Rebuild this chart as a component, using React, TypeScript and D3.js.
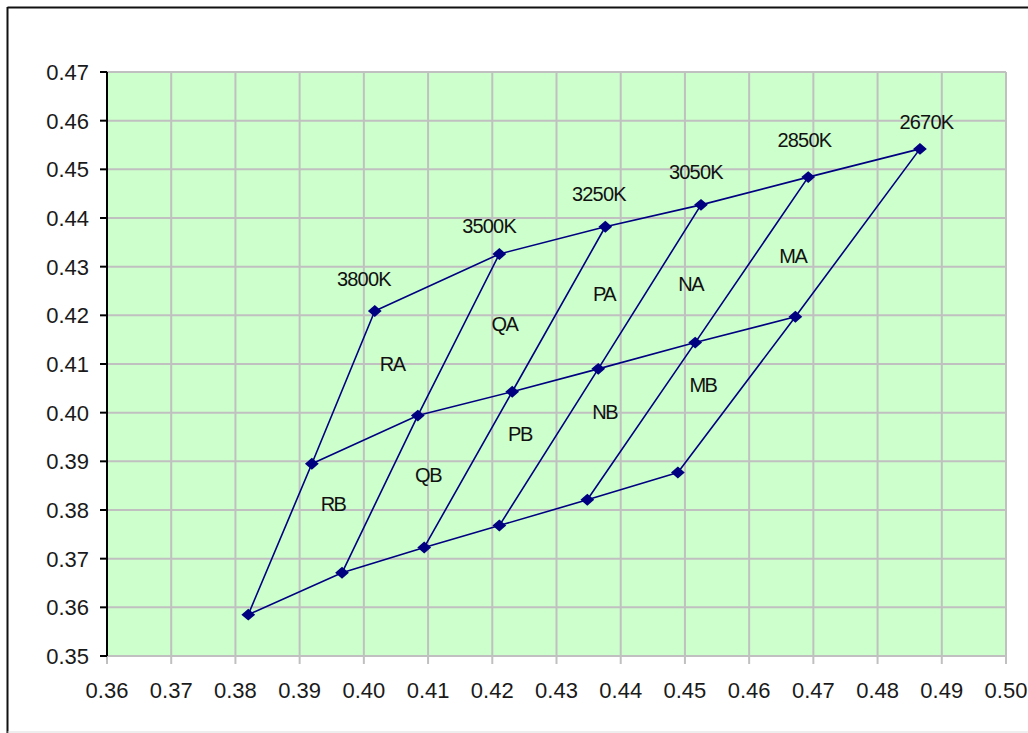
import * as d3 from "d3";
import React, { useRef, useEffect } from "react";

// chromaticity points (x, y)
const topRow: [number, number][] = [
  [0.4017, 0.4209],
  [0.4211, 0.4326],
  [0.4376, 0.4382],
  [0.4525, 0.4427],
  [0.4692, 0.4484],
  [0.4866, 0.4542],
];
const midRow: [number, number][] = [
  [0.3919, 0.3895],
  [0.4084, 0.3994],
  [0.4231, 0.4043],
  [0.4365, 0.409],
  [0.4516, 0.4144],
  [0.4672, 0.4197],
];
const bottomRow: [number, number][] = [
  [0.382, 0.3585],
  [0.3966, 0.3671],
  [0.4094, 0.3723],
  [0.4211, 0.3768],
  [0.4348, 0.3821],
  [0.4489, 0.3877],
];

const tempLabels = ["3800K", "3500K", "3250K", "3050K", "2850K", "2670K"];
const tempLabelPos: [number, number][] = [
  [0.4, 0.4275],
  [0.4195, 0.4385],
  [0.4366, 0.445],
  [0.4517, 0.4495],
  [0.4686, 0.456],
  [0.4876, 0.4597],
];

const regionLabels = ["RA", "QA", "PA", "NA", "MA", "RB", "QB", "PB", "NB", "MB"];
const regionLabelPos: [number, number][] = [
  [0.4044, 0.41],
  [0.4219, 0.4182],
  [0.4374, 0.4245],
  [0.4509, 0.4264],
  [0.4668, 0.4323],
  [0.3952, 0.3813],
  [0.41, 0.3873],
  [0.4243, 0.3957],
  [0.4375, 0.4002],
  [0.4528, 0.4058],
];

const xTicks = d3.range(0.36, 0.5001, 0.01);
const yTicks = d3.range(0.35, 0.4701, 0.01);

const margin = { top: 72, right: 22, bottom: 77, left: 107 };
const W = 1028;
const H = 733;

function drawChart(ref: any) {
  const svg = d3.select(ref.current);
  svg.selectAll("*").remove();
  const width = W - margin.left - margin.right;
  const height = H - margin.top - margin.bottom;

  // outer frame
  svg.append("line").attr("x1", 7.5).attr("x2", W).attr("y1", 7.5).attr("y2", 7.5)
    .attr("stroke", "#111").attr("stroke-width", 2);
  svg.append("line").attr("x1", 7.5).attr("x2", 7.5).attr("y1", 7).attr("y2", 733)
    .attr("stroke", "#111").attr("stroke-width", 2);
  svg.append("line").attr("x1", 7.5).attr("x2", W).attr("y1", 732).attr("y2", 732)
    .attr("stroke", "#ddd").attr("stroke-width", 1);

  const g = svg.append("g")
    .attr("transform", "translate(" + margin.left + "," + margin.top + ")");

  const x = d3.scaleLinear().domain([0.36, 0.5]).range([0, width]);
  const y = d3.scaleLinear().domain([0.35, 0.47]).range([height, 0]);

  g.append("rect").attr("width", width).attr("height", height).attr("fill", "#ccffcc");

  // grid
  g.selectAll(".vgrid").data(xTicks).enter().append("line")
    .attr("x1", (d: number) => x(d)).attr("x2", (d: number) => x(d))
    .attr("y1", 0).attr("y2", height + 8)
    .attr("stroke", "#c0c0c0").attr("stroke-width", 2);
  g.selectAll(".hgrid").data(yTicks).enter().append("line")
    .attr("x1", 0).attr("x2", width)
    .attr("y1", (d: number) => y(d)).attr("y2", (d: number) => y(d))
    .attr("stroke", "#c0c0c0").attr("stroke-width", 2);

  // left axis
  g.append("line").attr("x1", 0).attr("x2", 0).attr("y1", 0).attr("y2", height)
    .attr("stroke", "#000").attr("stroke-width", 2);
  g.selectAll(".ytick").data(yTicks).enter().append("line")
    .attr("x1", -7).attr("x2", 0)
    .attr("y1", (d: number) => y(d)).attr("y2", (d: number) => y(d))
    .attr("stroke", "#000").attr("stroke-width", 2);

  const font = "Liberation Sans, Arial, sans-serif";
  g.selectAll(".ylab").data(yTicks).enter().append("text")
    .attr("x", -18).attr("y", (d: number) => y(d))
    .attr("dy", "0.36em").attr("text-anchor", "end")
    .attr("font-family", font).attr("font-size", 22).attr("fill", "#1a1a1a")
    .text((d: number) => d.toFixed(2));
  g.selectAll(".xlab").data(xTicks).enter().append("text")
    .attr("x", (d: number) => x(d)).attr("y", height + 42)
    .attr("text-anchor", "middle")
    .attr("font-family", font).attr("font-size", 22).attr("fill", "#1a1a1a")
    .text((d: number) => d.toFixed(2));

  // lines
  const line = d3.line<[number, number]>().x((d) => x(d[0])).y((d) => y(d[1]));
  const rows = [topRow, midRow, bottomRow];
  const cols = topRow.map((_, i) => [topRow[i], midRow[i], bottomRow[i]]);
  [...rows, ...cols].forEach((pts) => {
    g.append("path").attr("d", line(pts as [number, number][]))
      .attr("fill", "none").attr("stroke", "#000080").attr("stroke-width", 1.6);
  });

  // markers
  const diamond = d3.symbol().type(d3.symbolDiamond2).size(100);
  g.selectAll(".pt").data([...topRow, ...midRow, ...bottomRow]).enter().append("path")
    .attr("d", diamond as any)
    .attr("transform", (d: any) => "translate(" + x(d[0]) + "," + y(d[1]) + ") scale(1.1,0.95)")
    .attr("fill", "#000080");

  // labels
  g.selectAll(".tlab").data(tempLabels).enter().append("text")
    .attr("x", (_: any, i: number) => x(tempLabelPos[i][0]))
    .attr("y", (_: any, i: number) => y(tempLabelPos[i][1]))
    .attr("dy", "0.36em").attr("text-anchor", "middle")
    .attr("font-family", font).attr("font-size", 20).attr("letter-spacing", -0.8)
    .attr("fill", "#111").text((d: string) => d);
  g.selectAll(".rlab").data(regionLabels).enter().append("text")
    .attr("x", (_: any, i: number) => x(regionLabelPos[i][0]))
    .attr("y", (_: any, i: number) => y(regionLabelPos[i][1]))
    .attr("dy", "0.36em").attr("text-anchor", "middle")
    .attr("font-family", font).attr("font-size", 20).attr("letter-spacing", -1.5)
    .attr("fill", "#111").text((d: string) => d);
}

function App() {
  const ref = useRef<any>();
  useEffect(() => {
    drawChart(ref);
  }, []);
  return (
    <svg ref={ref} width={W} height={H}
      style={{ position: "absolute", left: 0, top: 0, background: "#fff" }}></svg>
  );
}

export default App;
